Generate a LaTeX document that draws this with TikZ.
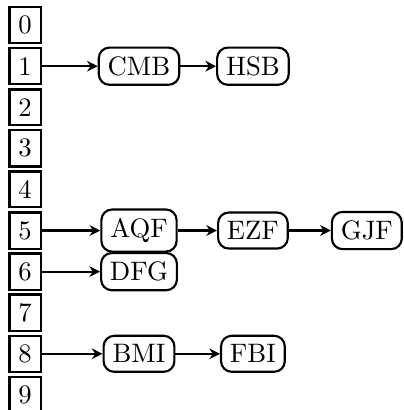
\documentclass[tikz,border=0pt]{standalone}
\usetikzlibrary{arrows.meta}
\begin{document}
\begin{tikzpicture}[
  idx/.style={draw, thick, rectangle, inner sep=3.333pt},
  item/.style={draw, thick, rectangle, rounded corners=4pt, inner sep=3.333pt},
  link/.style={thick, -{Stealth[length=4pt,width=4pt]}},
  x=1.5cm, y=-0.541cm
]
\useasboundingbox (-9.4pt,9.4pt) rectangle (141.6pt,-144.2pt);
\foreach \i in {0,...,9} { \node[idx] (b\i) at (0,\i) {\i}; }
\node[item] (cmb) at (1,1) {CMB};
\node[item] (hsb) at (2,1) {HSB};
\node[item] (aqf) at (1,5) {AQF};
\node[item] (ezf) at (2,5) {EZF};
\node[item] (gjf) at (3,5) {GJF};
\node[item] (dfg) at (1,6) {DFG};
\node[item] (bmi) at (1,8) {BMI};
\node[item] (fbi) at (2,8) {FBI};
\draw[link] (b1) -- (cmb);
\draw[link] (cmb) -- (hsb);
\draw[link] (b5) -- (aqf);
\draw[link] (aqf) -- (ezf);
\draw[link] (ezf) -- (gjf);
\draw[link] (b6) -- (dfg);
\draw[link] (b8) -- (bmi);
\draw[link] (bmi) -- (fbi);
\end{tikzpicture}
\end{document}
